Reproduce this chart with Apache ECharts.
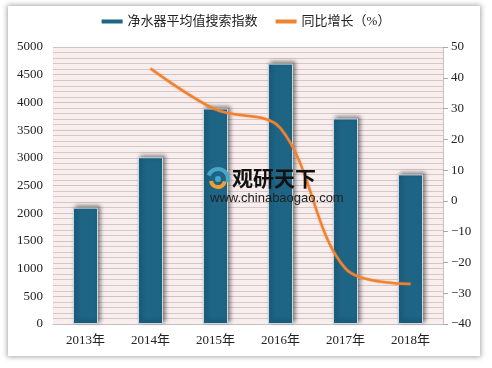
<!DOCTYPE html>
<html><head><meta charset="utf-8">
<script src="https://cdn.jsdelivr.net/npm/echarts@6/dist/echarts.min.js"></script>
<style>
html,body{margin:0;padding:0;background:#fff;}
#wrap{position:relative;width:492px;height:368px;overflow:hidden;background:#fff;}
#card{position:absolute;left:8px;top:6px;width:472px;height:350px;background:#fff;box-shadow:0 0 5px 1px rgba(0,0,0,0.35);}
#chart{position:absolute;left:0;top:0;width:492px;height:368px;}
</style></head>
<body><div id="wrap"><div id="card"></div><div id="chart"></div></div>
<script>
const categories = ['2013年','2014年','2015年','2016年','2017年','2018年'];
const searchIndex = [2100, 3010, 3890, 4700, 3710, 2700];
const yoyGrowth = [null, 43, 29.7, 23.6, -22, -27];
const barName = '净水器平均值搜索指数';
const lineName = '同比增长（%）';

const serif = '"Liberation Serif","Noto Sans CJK SC",serif';
const chart = echarts.init(document.getElementById('chart'), null, {renderer:'canvas'});
chart.setOption({
  backgroundColor: 'transparent',
  animation: false,
  legend: {
    top: 10, left: 'center', itemGap: 18,
    textStyle: {fontFamily: serif, fontSize: 13, color: '#222'},
    data: [
      {name: barName, icon: 'rect', itemStyle: {color: '#1d6485', borderWidth: 0, shadowBlur: 0}},
      {name: lineName, icon: 'rect', itemStyle: {color: '#ef8332'}}
    ],
    itemWidth: 21, itemHeight: 4
  },
  grid: {left: 53, right: 49, top: 47, bottom: 44, show: true, backgroundColor: '#f8eeee', borderWidth: 0},
  xAxis: {
    type: 'category', data: categories,
    axisLine: {show: true, lineStyle: {color: '#c8c0c0'}},
    axisTick: {show: false},
    axisLabel: {fontFamily: serif, fontSize: 13, color: '#222', margin: 10}
  },
  yAxis: [
    {
      type: 'value', min: 0, max: 5000, interval: 500,
      axisLine: {show: false}, axisTick: {show: false},
      axisLabel: {fontFamily: serif, fontSize: 13, color: '#222', margin: 10, formatter: v => String(v)},
      splitLine: {show: true, lineStyle: {color: '#d2c4c4', width: 1}},
      minorTick: {show: false, splitNumber: 5},
      minorSplitLine: {show: true, lineStyle: {color: '#d6c8c8', width: 1}}
    },
    {
      type: 'value', min: -40, max: 50, interval: 10, position: 'right',
      axisLine: {show: true, lineStyle: {color: '#c4c4c4'}},
      axisTick: {show: true, length: 5, lineStyle: {color: '#aaa'}},
      axisLabel: {fontFamily: serif, fontSize: 13, color: '#222', margin: 8, formatter: v => String(v).replace('-', '\u2212')},
      splitLine: {show: false}
    }
  ],
  series: [
    {
      name: barName, type: 'bar', data: searchIndex, barWidth: 25, yAxisIndex: 0,
      itemStyle: {color: '#1d6485', borderColor: '#c9d6de', borderWidth: 1,
        shadowBlur: 4, shadowColor: 'rgba(0,0,0,0.45)', shadowOffsetX: 2, shadowOffsetY: -2}
    },
    {
      name: lineName, type: 'line', data: yoyGrowth, yAxisIndex: 1, smooth: 0.35,
      symbol: 'none', connectNulls: false,
      lineStyle: {color: '#ef8332', width: 2.5, shadowBlur: 2, shadowColor: 'rgba(239,131,50,0.5)'},
      itemStyle: {color: '#ef8332'}, z: 5
    }
  ],
  graphic: [
    {type: 'arc', z: 10, shape: {cx: 218, cy: 179, r: 10, startAngle: 3.5, endAngle: 6.6}, style: {fill: null, stroke: '#4aa6c8', lineWidth: 4}},
    {type: 'arc', z: 10, shape: {cx: 218, cy: 180, r: 7, startAngle: 0.2, endAngle: 3.0}, style: {fill: null, stroke: '#f0a030', lineWidth: 4}},
    {type: 'circle', z: 10, shape: {cx: 218, cy: 179, r: 3}, style: {fill: '#4aa6c8'}},
    {type: 'text', left: 232, top: 168, z: 10, style: {text: '观研天下', fontSize: 21, fontWeight: 'bold', fill: '#111', fontFamily: '"Noto Sans CJK SC",sans-serif'}},
    {type: 'text', left: 210, top: 192, z: 10, style: {text: 'www.chinabaogao.com', fontSize: 13, fill: '#222', fontFamily: '"Liberation Sans",sans-serif'}}
  ]
});
</script></body></html>
